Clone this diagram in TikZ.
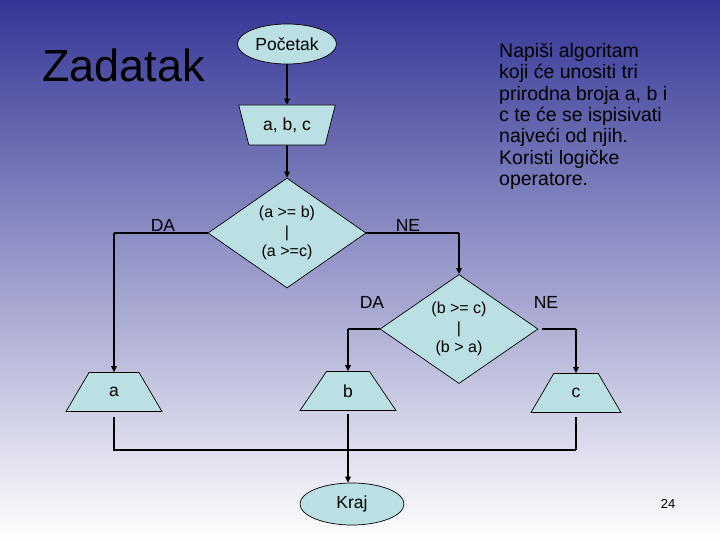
\documentclass[tikz,border=0pt]{standalone}
\usepackage{fontspec}
\setmainfont{Liberation Sans}
\usetikzlibrary{shapes.geometric,arrows.meta}
\definecolor{bgtop}{RGB}{52,54,150}
\definecolor{bgmid}{RGB}{190,190,220}
\definecolor{bgbot}{RGB}{255,255,255}
\definecolor{boxfill}{RGB}{187,224,227}
\begin{document}
\begin{tikzpicture}[x=1pt,y=-1pt,
  box/.style={draw=black, line width=0.7pt, fill=boxfill, inner sep=0pt, font=\fontsize{17.5}{19}\selectfont},
  term/.style={box, ellipse},
  inbox/.style={box, trapezium, trapezium left angle=113, trapezium right angle=113, trapezium stretches=true},
  outbox/.style={box, trapezium, trapezium left angle=65, trapezium right angle=65, trapezium stretches=true, minimum width=96pt, minimum height=39pt},
  cond/.style={box, diamond, font=\fontsize{16}{19.5}\selectfont, align=center},
  arr/.style={line width=1.6pt, -{Triangle[length=6pt,width=5.5pt]}},
  ln/.style={line width=1.1pt},
  lbl/.style={inner sep=0pt, font=\fontsize{17.5}{19}\selectfont}
]
\useasboundingbox (0,0) rectangle (720,540);
\shade[top color=bgtop, middle color=bgmid, bottom color=bgbot] (0,0) rectangle (720,540);

\node[inner sep=0pt, anchor=base west, font=\fontsize{45}{50}\selectfont] (title) at (42,82) {Zadatak};
\node[inner sep=0pt, anchor=north west, align=left, font=\fontsize{19.5}{21.4}\selectfont] (task) at (499,43)
  {Napiši algoritam\\koji će unositi tri\\prirodna broja a, b i\\c te će se ispisivati\\najveći od njih.\\Koristi logičke\\operatore.};

\node[term, minimum width=99pt, minimum height=40pt] (start) at (287,44) {Početak};
\node[inbox, minimum width=97pt, minimum height=40pt] (inp) at (287,125) {a, b, c};
\node[cond, minimum width=158pt, minimum height=104pt] (d1) at (287,233) {(a >= b)\\|\\(a >=c)};
\node[cond, minimum width=158pt, minimum height=106pt] (d2) at (459,329) {(b >= c)\\|\\(b > a)};
\node[outbox] (a) at (114,392) {a};
\node[outbox] (b) at (348,391) {b};
\node[outbox, minimum width=90pt] (c) at (576,393) {c};
\node[term, minimum width=104pt, minimum height=42pt] (kraj) at (352,504) {Kraj};

\node[lbl] (da1) at (163,225) {DA};
\node[lbl] (ne1) at (408,225) {NE};
\node[lbl] (da2) at (372,302) {DA};
\node[lbl] (ne2) at (546,302) {NE};
\node[inner sep=0pt, font=\fontsize{13}{15}\selectfont] (num) at (668,504) {24};

\coordinate (k1) at (a.north |- d1.west);
\coordinate (k2) at (d2.north |- d1.east);
\coordinate (k3) at (b.north |- d2.west);
\coordinate (k4) at (c.north |- d2.east);
\coordinate (jl) at (a.south |- 0,450);
\coordinate (jr) at (c.south |- 0,450);
\coordinate (kin) at (b.south |- kraj.north);

\draw[arr] (start.south) -- (inp.north);
\draw[arr] (inp.south) -- (d1.north);
\draw[ln] (d1.west) -- (k1);
\draw[arr] (k1) -- (a.north);
\draw[ln] (d1.east) -- (k2);
\draw[arr] (k2) -- (d2.north);
\draw[ln] (d2.west) -- (k3);
\draw[arr] (k3) -- (b.north);
\draw[ln, shorten <=4pt] (d2.east) -- (k4);
\draw[arr] (k4) -- (c.north);
\draw[ln, shorten <=5pt] (a.south) -- (jl) -- (jr);
\draw[ln, shorten <=4pt] (c.south) -- (jr);
\draw[arr, shorten <=3pt] (b.south) -- (kin);
\end{tikzpicture}
\end{document}
